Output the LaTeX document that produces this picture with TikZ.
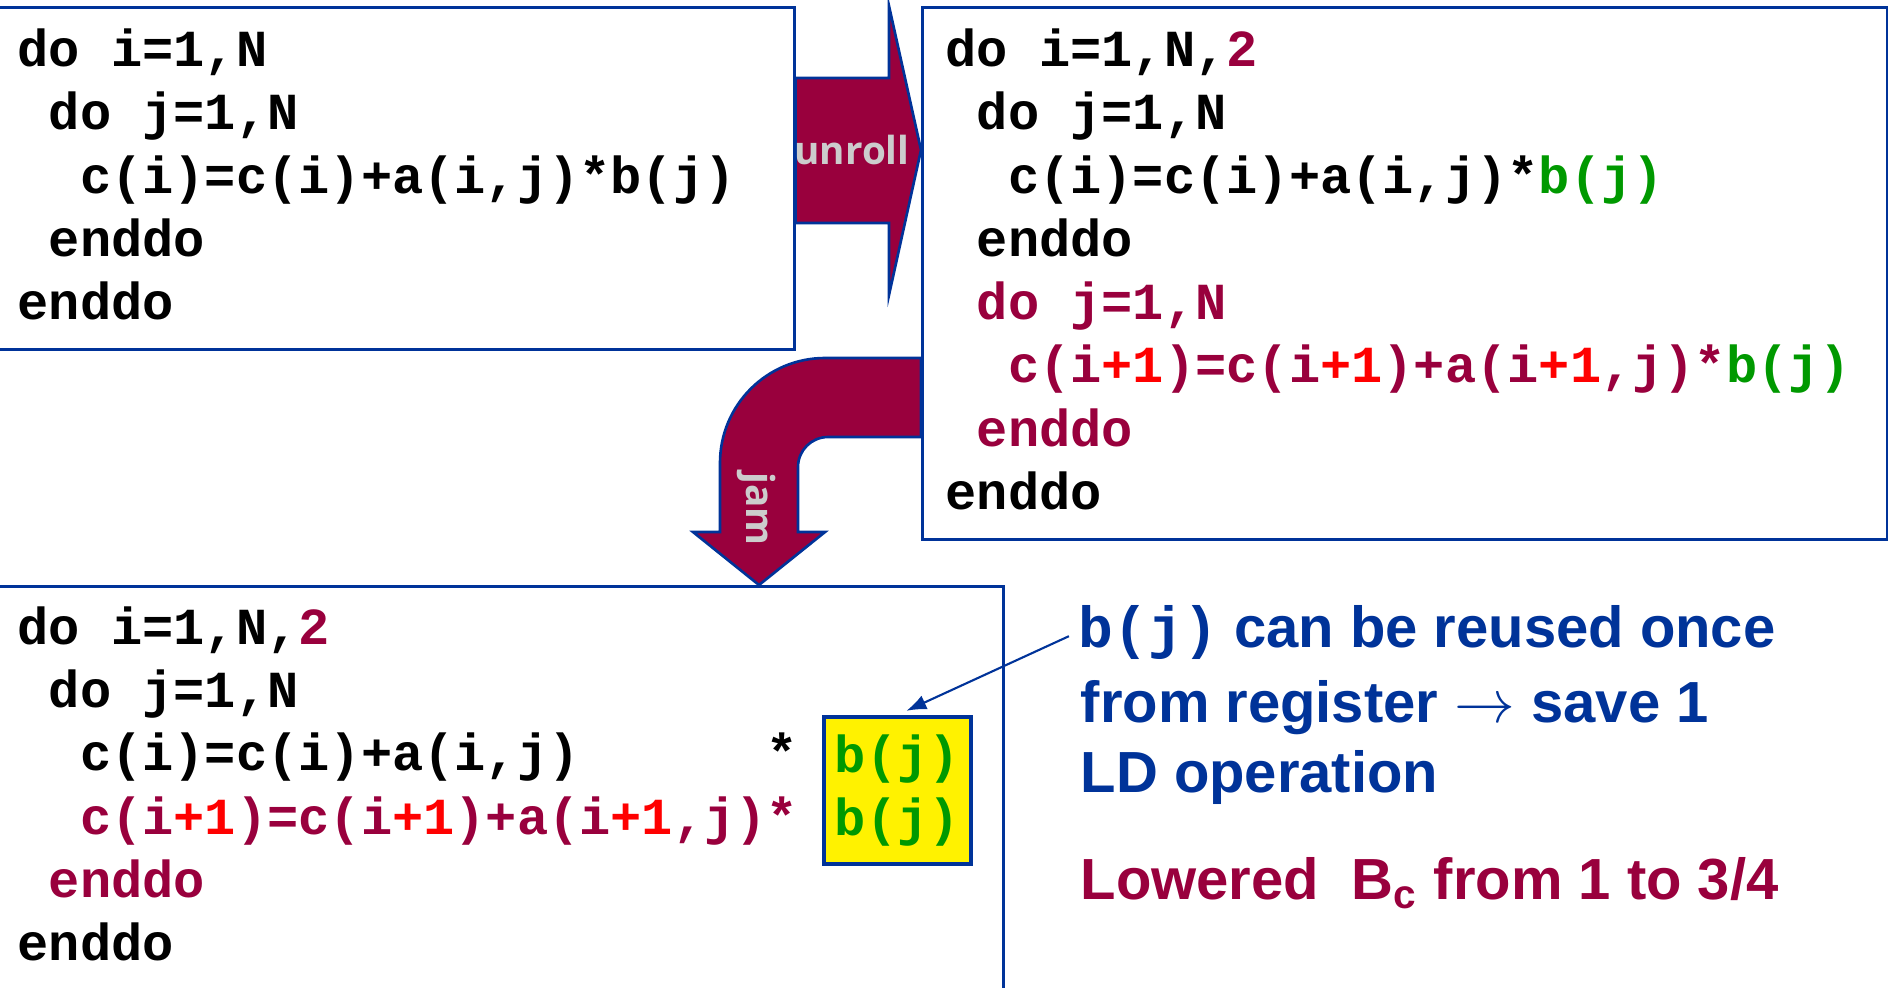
\documentclass[tikz,border=0pt]{standalone}
\usepackage{fontspec}
\setmainfont{Liberation Sans}
\setmonofont{Liberation Mono}
\newfontfamily\labelfont{Open Sans}
\usetikzlibrary{arrows.meta}
\definecolor{frameblue}{RGB}{0,51,153}
\definecolor{wine}{RGB}{153,0,61}
\definecolor{codered}{RGB}{255,0,0}
\definecolor{codegreen}{RGB}{0,153,0}
\definecolor{labelgrey}{RGB}{204,204,204}
% the "+1" offset in the unrolled statements
\newcommand{\plusone}{\textcolor{codered}{+1}}
\newcommand{\bj}{\textcolor{codegreen}{b(j)}}

\begin{document}
\begin{tikzpicture}[
	codebox/.style={rectangle, draw=frameblue, line width=0.75pt, fill=white, anchor=north west, inner sep=0pt},
	code/.style={anchor=base west, inner sep=0pt, font=\ttfamily\bfseries\fontsize{14.8}{17.94}\selectfont},
	regbox/.style={rectangle, draw=frameblue, line width=1pt, fill=yellow, anchor=north west, align=center,
	               minimum width=1.47cm, minimum height=1.47cm, inner sep=0pt, text=codegreen,
	               font=\ttfamily\bfseries\fontsize{14.8}{17.94}\selectfont},
	note/.style={anchor=base west, inner sep=0pt, text=frameblue, font=\bfseries\fontsize{16.5}{20}\selectfont},
	bigarrow/.style={draw=frameblue, line width=0.75pt, fill=wine},
	arrowlabel/.style={text=labelgrey, inner sep=0pt, font=\labelfont\bfseries\fontsize{11}{13}\selectfont},
	ptr/.style={-{Latex[length=2mm]}, draw=frameblue, line width=0.6pt}
	]
\useasboundingbox (0,0) rectangle (18.88,-9.87);

% the three code frames
\node[codebox, minimum width=7.98cm, minimum height=3.42cm] (orig) at (-0.05,-0.06) {};
\node[codebox, minimum width=9.65cm, minimum height=5.32cm] (unrolled) at (9.21,-0.06) {};
\node[codebox, minimum width=10.07cm, minimum height=4.4cm] (jammed) at (-0.05,-5.85) {};

% original loop nest
\node[code] (o1) at (0.17,-0.66) {do~i=1,N};
\node[code] (o2) at (0.17,-1.29) {~do~j=1,N};
\node[code] (o3) at (0.17,-1.93) {~~c(i)=c(i)+a(i,j)*b(j)};
\node[code] (o4) at (0.17,-2.56) {~enddo};
\node[code] (o5) at (0.17,-3.19) {enddo};

% unrolled by 2
\node[code] (u1) at (9.45,-0.66) {do~i=1,N,\textcolor{wine}{2}};
\node[code] (u2) at (9.45,-1.29) {~do~j=1,N};
\node[code] (u3) at (9.45,-1.93) {~~c(i)=c(i)+a(i,j)*\bj};
\node[code] (u4) at (9.45,-2.56) {~enddo};
\node[code] (u5) at (9.45,-3.19) {\textcolor{wine}{~do~j=1,N}};
\node[code] (u6) at (9.45,-3.82) {{\color{wine}~~c(i\plusone)=c(i\plusone)+a(i\plusone,j)*}\bj};
\node[code] (u7) at (9.45,-4.46) {\textcolor{wine}{~enddo}};
\node[code] (u8) at (9.45,-5.09) {enddo};

% unroll and jam
\node[code] (j1) at (0.17,-6.44) {do~i=1,N,\textcolor{wine}{2}};
\node[code] (j2) at (0.17,-7.07) {~do~j=1,N};
\node[code] (j3) at (0.17,-7.70) {~~c(i)=c(i)+a(i,j)~~~~~~*};
\node[code] (j4) at (0.17,-8.34) {{\color{wine}~~c(i\plusone)=c(i\plusone)+a(i\plusone,j)*}};
\node[code] (j5) at (0.17,-8.97) {\textcolor{wine}{~enddo}};
\node[code] (j6) at (0.17,-9.60) {enddo};
\node[regbox] (reg) at (8.22,-7.15) {b(j)\\b(j)};

% unroll arrow
\filldraw[bigarrow] (orig.east |- 0,-0.78) -- (8.89,-0.78) -- (8.89,-0.06) -- (unrolled.west |- 0,-1.50)
	-- (8.89,-2.95) -- (8.89,-2.23) -- (orig.east |- 0,-2.23) -- cycle;
\node[arrowlabel] (unrolltxt) at (8.52,-1.50) {unroll};

% jam arrow
\filldraw[bigarrow] (unrolled.west |- 0,-3.58) -- (8.25,-3.58) arc[start angle=90, end angle=180, radius=1.05]
	-- (7.20,-5.32) -- (6.93,-5.32) -- (7.59,0 |- jammed.north) -- (8.25,-5.32) -- (7.98,-5.32)
	-- (7.98,-4.67) arc[start angle=180, end angle=90, radius=0.3] -- (unrolled.west |- 0,-4.37) -- cycle;
\node[arrowlabel, rotate=-90] (jamtxt) at (7.57,-5.09) {jam};

% remarks
\node[note] (reuse) at (10.78,-6.47) {{\ttfamily b(j)} can be reused once};
\node[note] (save) at (10.80,-7.22) {from register $\rightarrow$ save 1};
\node[note] (ldop) at (10.80,-7.92) {LD operation};
\node[note, text=wine] (lowered) at (10.80,-8.99) {Lowered~~B\textsubscript{c} from 1 to 3/4};

\draw[ptr, shorten <=1mm, shorten >=1mm] (reuse.west) -- (reg.north);
\end{tikzpicture}
\end{document}
